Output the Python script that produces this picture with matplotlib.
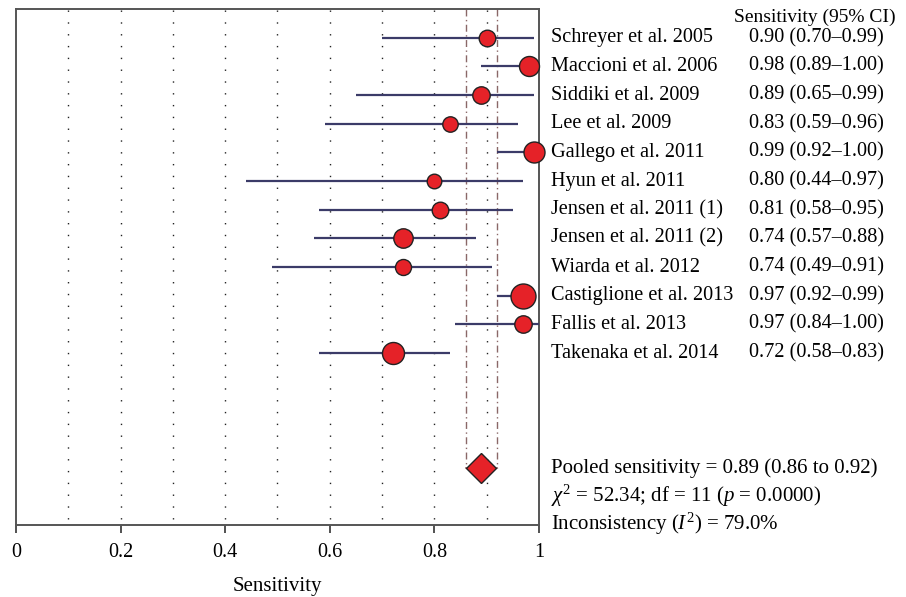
import matplotlib
matplotlib.use("Agg")
import matplotlib.pyplot as plt
import numpy as np

studies = ["Schreyer et al. 2005", "Maccioni et al. 2006", "Siddiki et al. 2009",
           "Lee et al. 2009", "Gallego et al. 2011", "Hyun et al. 2011",
           "Jensen et al. 2011 (1)", "Jensen et al. 2011 (2)", "Wiarda et al. 2012",
           "Castiglione et al. 2013", "Fallis et al. 2013", "Takenaka et al. 2014"]
sens = [0.90, 0.98, 0.89, 0.83, 0.99, 0.80, 0.81, 0.74, 0.74, 0.97, 0.97, 0.72]
ci_low = [0.70, 0.89, 0.65, 0.59, 0.92, 0.44, 0.58, 0.57, 0.49, 0.92, 0.84, 0.58]
ci_high = [0.99, 1.00, 0.99, 0.96, 1.00, 0.97, 0.95, 0.88, 0.91, 0.99, 1.00, 0.83]
weights = [8.3, 10.0, 8.7, 7.7, 10.5, 7.3, 8.3, 9.7, 8.0, 12.5, 8.7, 11.0]  # marker radius (px)
pooled = 0.89
pooled_low = 0.86
pooled_high = 0.92
stats_lines = ["Pooled sensitivity = 0.89 (0.86 to 0.92)",
               r"$\chi^2$ = 52.34; df = 11 ($p$ = 0.0000)",
               r"Inconsistency ($I^2$) = 79.0%"]
xticks = [0, 0.2, 0.4, 0.6, 0.8, 1]
xticklabels = ["0", "0.2", "0.4", "0.6", "0.8", "1"]

plt.rcParams['font.family'] = ['Liberation Serif', 'DejaVu Serif']
plt.rcParams['mathtext.fontset'] = 'custom'
plt.rcParams['mathtext.rm'] = 'Liberation Serif'
plt.rcParams['mathtext.it'] = 'Liberation Serif:italic'

W, H = 906, 597
fig = plt.figure(figsize=(W / 100, H / 100), dpi=100)
ax = fig.add_axes([16 / W, 1 - 525 / H, (539 - 16) / W, (525 - 9) / H])
ax.set_xlim(0, 1)
ax.set_ylim(17, -1)

# dotted vertical guides
for g in np.arange(0.1, 1.0, 0.1):
    ax.plot([g, g], [-0.95, 16.8], color='#222222', lw=1.0,
            linestyle=(0, (1.0, 7.5)), zorder=1)

# pooled CI dash-dot lines
pooled_row = 15
for v in (pooled_low, pooled_high):
    ax.plot([v, v], [-1, pooled_row], color='#8a6868', lw=1.0,
            linestyle=(0, (5, 2.5, 1, 2.5)), zorder=2)
ax.plot([pooled_low, pooled_high], [pooled_row, pooled_row], color='#8a6868', lw=1.2, zorder=2)

rows = np.arange(len(studies))
for i in rows:
    ax.plot([ci_low[i], ci_high[i]], [i, i], color='#3b3b68', lw=1.6, zorder=3,
            solid_capstyle='butt', clip_on=False)
    ms = 2 * weights[i] * 0.72
    ax.plot(sens[i], i, 'o', ms=ms, mfc='#e52228', mec='#222222', mew=1.0,
            zorder=4, clip_on=False)

ax.plot(pooled, pooled_row, 'D', ms=15, mfc='#e52228', mec='#222222', mew=1.0, zorder=4)

ax.set_yticks([])
ax.set_xticks(xticks)
ax.set_xticklabels(xticklabels, fontsize=14.5)
ax.tick_params(axis='x', direction='out', length=6, width=1.2, color='#333333', pad=7)
for s in ax.spines.values():
    s.set_color('#555555')
    s.set_linewidth(1.4)
ax.set_xlabel("Sensitivity", fontsize=15, labelpad=11)

fs = 14.6
ax.text(1.373, -0.72, "Sensitivity (95% CI)", fontsize=14, va='center', ha='left')
for i in rows:
    ax.text(1.023, i, studies[i], fontsize=fs, va='center', ha='left')
    ax.text(1.4015, i, f"{sens[i]:.2f} ({ci_low[i]:.2f}–{ci_high[i]:.2f})",
            fontsize=fs, va='center', ha='left')
for k, line in enumerate(stats_lines):
    ax.text(1.023, pooled_row + k * 0.98, line, fontsize=15, va='center', ha='left')

fig.savefig("out.png", dpi=100)
